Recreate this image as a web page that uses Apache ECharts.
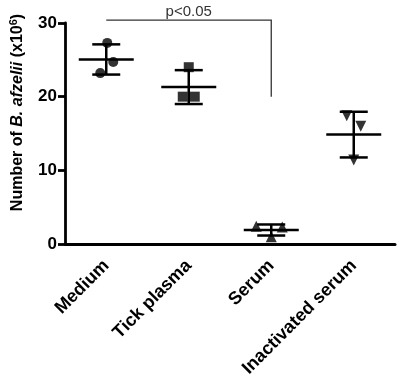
<!DOCTYPE html>
<html>
<head>
<meta charset="utf-8">
<script src="https://cdn.jsdelivr.net/npm/echarts@6/dist/echarts.min.js"></script>
<style>html,body{margin:0;padding:0;background:#fff}#c{width:403px;height:380px}</style>
</head>
<body>
<div id="c"></div>
<script>
// ---- data ----
var categories = ['Medium', 'Tick plasma', 'Serum', 'Inactivated serum'];
var mediumPoints = [27.3, 24.7, 23.2];
var tickPlasmaPoints = [24.0, 20.0, 20.0];
var serumPoints = [2.4, 2.3, 1.0];
var inactivatedPoints = [17.4, 16.0, 11.4];
var means = [25.05, 21.3, 1.9, 14.85];
var sds = [2.05, 2.3, 0.75, 3.1];
var yTicks = [0, 10, 20, 30];
var sigFrom = 0, sigTo = 2, sigTop = 30.4, sigBottom = 20, sigLabel = 'p<0.05';

// ---- rendering ----
var FONT = 'Liberation Sans, Arial, sans-serif';
var groups = [mediumPoints, tickPlasmaPoints, serumPoints, inactivatedPoints];
var symbols = ['circle', 'rect', 'triangle', 'triangle'];
var rotations = [0, 0, 0, 180];
var sizes = [10, 10, 11, 11];
var jitter = [[1, 7, -6], [0, -6, 6], [-15, 11, 0], [-7, 7, 0]];

var scatterSeries = groups.map(function (pts, gi) {
  return {
    type: 'scatter',
    symbol: symbols[gi],
    symbolRotate: rotations[gi],
    symbolSize: sizes[gi],
    itemStyle: { color: '#000' },
    z: 5,
    data: pts.map(function (v, j) {
      return { value: [gi, v], symbolOffset: [jitter[gi][j], 0] };
    })
  };
});

var errData = means.map(function (m, i) { return [i, m, sds[i]]; });

var option = {
  animation: false,
  grid: { left: 62, right: 8, top: 23, bottom: 136 },
  xAxis: {
    type: 'category',
    data: categories,
    boundaryGap: true,
    axisLine: { lineStyle: { color: '#000', width: 3 } },
    axisTick: { show: false },
    axisLabel: {
      rotate: 45, color: '#000', fontSize: 18, fontWeight: 'bold',
      fontFamily: FONT, margin: 19, interval: 0
    }
  },
  yAxis: {
    type: 'value',
    min: 0, max: 30, interval: 10,
    splitLine: { show: false },
    axisLine: { show: true, lineStyle: { color: '#000', width: 2.8 } },
    axisTick: { show: true, length: 7, lineStyle: { color: '#000', width: 2.8 } },
    axisLabel: {
      color: '#000', fontSize: 17, fontWeight: 'bold', margin: 8,
      fontFamily: FONT,
      formatter: function (v) { return yTicks.indexOf(v) >= 0 ? String(v) : ''; }
    },
    name: '{n|Number of }{i|B. afzelii}{n| (x10}{s|6}{n|)}',
    nameLocation: 'middle',
    nameGap: 38,
    nameRotate: 90,
    nameTextStyle: {
      padding: [0, 0, 0, 42],
      rich: {
        n: { fontSize: 16, fontWeight: 'bold', color: '#000', fontFamily: FONT },
        i: { fontSize: 16, fontWeight: 'bold', fontStyle: 'italic', color: '#000', fontFamily: FONT },
        s: { fontSize: 11, fontWeight: 'bold', color: '#000', verticalAlign: 'top', padding: [0, 0, 8, 0], fontFamily: FONT }
      }
    }
  },
  series: scatterSeries.concat([
    {
      type: 'custom',
      z: 4,
      data: errData,
      renderItem: function (params, api) {
        var x = api.value(0), m = api.value(1), s = api.value(2);
        var pm = api.coord([x, m]);
        var pt = api.coord([x, m + s]);
        var pb = api.coord([x, m - s]);
        var st = { stroke: '#000', lineWidth: 2.5 };
        return {
          type: 'group',
          children: [
            { type: 'line', shape: { x1: pt[0], y1: pt[1], x2: pb[0], y2: pb[1] }, style: st },
            { type: 'line', shape: { x1: pt[0] - 14, y1: pt[1], x2: pt[0] + 14, y2: pt[1] }, style: st },
            { type: 'line', shape: { x1: pb[0] - 14, y1: pb[1], x2: pb[0] + 14, y2: pb[1] }, style: st },
            { type: 'line', shape: { x1: pm[0] - 27.5, y1: pm[1], x2: pm[0] + 27.5, y2: pm[1] }, style: st }
          ]
        };
      }
    },
    {
      type: 'custom',
      z: 3,
      clip: false,
      data: [[sigFrom, sigTo, sigTop, sigBottom]],
      renderItem: function (params, api) {
        var a = api.coord([api.value(0), api.value(2)]);
        var b = api.coord([api.value(1), api.value(2)]);
        var c = api.coord([api.value(1), api.value(3)]);
        return {
          type: 'group',
          children: [
            { type: 'polyline', shape: { points: [a, b, c] }, style: { stroke: '#333', lineWidth: 1.3, fill: null } },
            { type: 'text', x: (a[0] + b[0]) / 2, y: a[1] - 1,
              style: { text: sigLabel, fill: '#333', fontSize: 15, align: 'center', verticalAlign: 'bottom',
                       fontFamily: FONT } }
          ]
        };
      }
    }
  ])
};
echarts.init(document.getElementById('c')).setOption(option);
</script>
</body>
</html>
